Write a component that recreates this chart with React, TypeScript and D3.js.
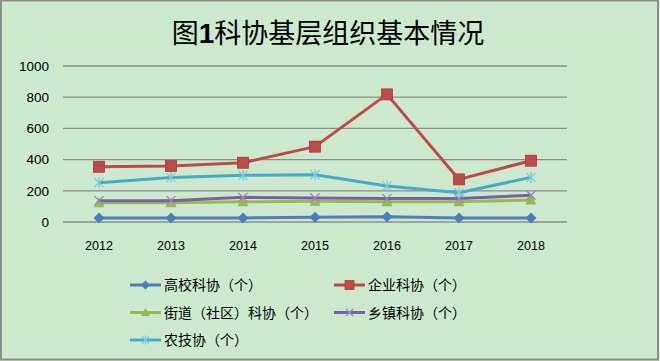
import React from "react";
import * as d3 from "d3";

const title = "图1科协基层组织基本情况";
const years = ["2012", "2013", "2014", "2015", "2016", "2017", "2018"];
const yTicks = [0, 200, 400, 600, 800, 1000];

const seriesNames = ["高校科协（个）", "企业科协（个）", "街道（社区）科协（个）", "乡镇科协（个）", "农技协（个）"];
const gaoxiao = [26, 26, 26, 30, 34, 26, 26];
const qiye = [354, 359, 380, 483, 818, 273, 393];
const jiedao = [124, 124, 130, 133, 130, 130, 141];
const xiangzhen = [137, 137, 158, 154, 150, 150, 171];
const nongji = [252, 286, 299, 303, 231, 188, 286];

const colors = ["#4a7ebb", "#be4b48", "#98b954", "#7d60a0", "#46aac5"];
const markers = ["diamond", "square", "triangle", "x", "star"];

const W = 660, H = 361;

function Marker({ type, x, y, color, s }: { type: string; x: number; y: number; color: string; s: number }) {
  const h = s / 2;
  if (type === "diamond") {
    return <path d={`M${x},${y - h - 1}L${x + h + 1},${y}L${x},${y + h + 1}L${x - h - 1},${y}Z`} fill={color} />;
  }
  if (type === "square") {
    return <rect x={x - h} y={y - h} width={s} height={s} fill={color} stroke="#a83e3b" strokeWidth={0.8} />;
  }
  if (type === "triangle") {
    return <path d={`M${x},${y - h - 1}L${x + h + 1},${y + h}L${x - h - 1},${y + h}Z`} fill={color} />;
  }
  if (type === "x") {
    return (
      <g stroke="#9a86b8" strokeWidth={1.3}>
        <line x1={x - h} y1={y - h} x2={x + h} y2={y + h} />
        <line x1={x - h} y1={y + h} x2={x + h} y2={y - h} />
      </g>
    );
  }
  return (
    <g stroke="#7fc8dc" strokeWidth={1.3}>
      <line x1={x - h} y1={y - h} x2={x + h} y2={y + h} />
      <line x1={x - h} y1={y + h} x2={x + h} y2={y - h} />
      <line x1={x} y1={y - h - 1} x2={x} y2={y + h + 1} />
    </g>
  );
}

export default function App() {
  const data = [gaoxiao, qiye, jiedao, xiangzhen, nongji];
  const x = d3.scaleBand<string>().domain(years).range([63, 567]).padding(0);
  const y = d3.scaleLinear().domain([0, 1000]).range([222, 66]);
  const cx = (d: string) => (x(d) as number) + x.bandwidth() / 2;
  const line = d3
    .line<number>()
    .x((_, i) => cx(years[i]))
    .y((v) => y(v));

  const order = [2, 3, 4, 0, 1];
  const legendPos = [
    [130, 285],
    [334, 285],
    [130, 312.5],
    [334, 312.5],
    [130, 340],
  ];

  return (
    <svg width={W} height={H} style={{ position: "absolute", left: 0, top: 0 }}>
      <rect x={0} y={0} width={W} height={H} fill="#cce8cf" />
      <rect x={1} y={0.5} width={W - 3} height={H - 2} fill="none" stroke="#8c8c8c" strokeWidth={2} />
      <text
        x={328}
        y={43}
        textAnchor="middle"
        fontFamily="'Noto Sans CJK SC', sans-serif"
        fontSize={27}
        fill="#000"
      >
        {title.slice(0, 1)}
        <tspan fontFamily="'Liberation Sans', sans-serif" fontWeight="bold" fontSize={28}>{title.slice(1, 2)}</tspan>
        {title.slice(2)}
      </text>
      {yTicks.map((t) => (
        <g key={t}>
          <line x1={63} x2={567} y1={y(t)} y2={y(t)} stroke="#8c8c8c" strokeWidth={1.3} />
          <text
            x={49}
            y={y(t)}
            dy="0.36em"
            textAnchor="end"
            fontFamily="'Liberation Sans', sans-serif"
            fontSize={13.5}
            fill="#000"
          >
            {t}
          </text>
        </g>
      ))}
      {years.map((yr) => (
        <text
          key={yr}
          x={cx(yr)}
          y={250}
          textAnchor="middle"
          fontFamily="'Liberation Sans', sans-serif"
          fontSize={12.5}
          fill="#000"
        >
          {yr}
        </text>
      ))}
      {order.map((si) => (
        <g key={si}>
          <path d={line(data[si]) as string} fill="none" stroke={colors[si]} strokeWidth={3} strokeLinejoin="round" />
          {data[si].map((v, i) => (
            <Marker key={i} type={markers[si]} x={cx(years[i])} y={y(v)} color={colors[si]} s={si === 1 ? 11 : 9} />
          ))}
        </g>
      ))}
      {seriesNames.map((name, si) => {
        const [lx, ly] = legendPos[si];
        return (
          <g key={name}>
            <line x1={lx} x2={lx + 31} y1={ly} y2={ly} stroke={colors[si]} strokeWidth={3} />
            <Marker type={markers[si]} x={lx + 15.5} y={ly} color={colors[si]} s={si === 1 ? 9 : 7} />
            <text
              x={lx + 34}
              y={ly}
              dy="0.36em"
              fontFamily="'Noto Sans CJK SC', sans-serif"
              fontSize={14}
              fill="#000"
            >
              {name}
            </text>
          </g>
        );
      })}
    </svg>
  );
}
